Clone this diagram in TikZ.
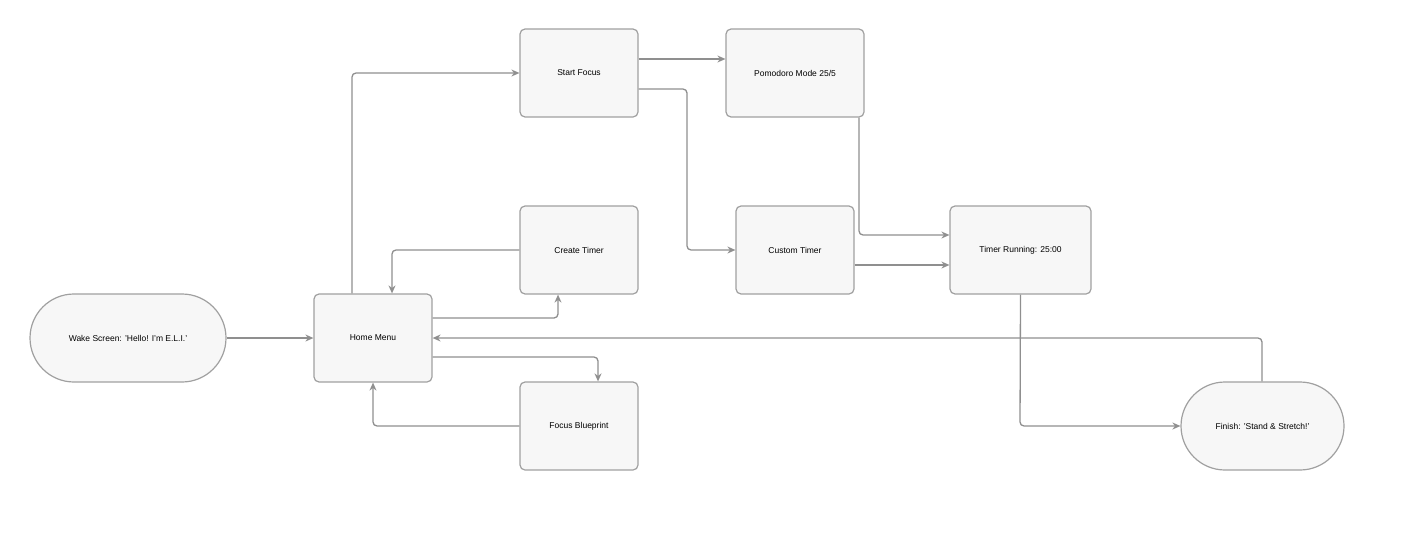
\documentclass[tikz,border=0pt]{standalone}
\usepackage{fontspec}
\setmainfont{Liberation Sans}
\usetikzlibrary{arrows.meta}
\definecolor{bd}{HTML}{A0A0A0}
\definecolor{fl}{HTML}{F7F7F7}
\definecolor{ln}{HTML}{8F8F8F}
\begin{document}
\begin{tikzpicture}[x=1pt,y=-1pt,
 box/.style={draw=bd,fill=fl,line width=1.2pt,rounded corners=5pt,minimum height=88pt,inner sep=0pt,font=\fontsize{8.5}{10}\selectfont},
 pill/.style={box,rounded corners=44pt},
 con/.style={draw=ln,line width=1.3pt,rounded corners=4pt,-{Stealth[length=8pt,width=7pt]}}]
\useasboundingbox (0,0) rectangle (1419,546);
\node[pill,minimum width=196pt] (wake) at (128,338) {Wake Screen: 'Hello! I'm E.L.I.'};
\node[box,minimum width=118pt] (home) at (373,338) {Home Menu};
\node[box,minimum width=118pt] (start) at (579,73) {Start Focus};
\node[box,minimum width=138pt] (pomo) at (795,73) {Pomodoro Mode 25/5};
\node[box,minimum width=118pt] (create) at (579,250) {Create Timer};
\node[box,minimum width=118pt] (custom) at (795,250) {Custom Timer};
\node[box,minimum width=141pt] (run) at (1020.5,250) {Timer Running: 25:00};
\node[box,minimum width=118pt] (blue) at (579,426) {Focus Blueprint};
\node[pill,minimum width=163pt] (fin) at (1262.5,426) {Finish: 'Stand \& Stretch!'};
\draw[con] (wake) -- (home);
\draw[con] (home.north -| 352,0) -- (352,73) -- (start.west);
\draw[con] (start.east |- 0,59) -- (pomo.west |- 0,59);
\draw[con] (start.east |- 0,89) -- (687,89) -- (687,250) -- (custom.west);
\draw[con] (pomo.south -| 859,0) -- (859,235) -- (run.west |- 0,235);
\draw[con] (custom.east |- 0,265) -- (run.west |- 0,265);
\draw[con] (create.west) -- (392,250) -- (home.north -| 392,0);
\draw[con] (home.east |- 0,318) -- (558,318) -- (create.south -| 558,0);
\draw[con] (home.east |- 0,357) -- (598,357) -- (blue.north -| 598,0);
\draw[con] (blue.west) -- (373,426) -- (home.south);
\draw[con] (run.south) -- (1020,426) -- (fin.west);
\draw[con] (fin.north -| 1262,0) -- (1262,338) -- (home.east);
\end{tikzpicture}
\end{document}
